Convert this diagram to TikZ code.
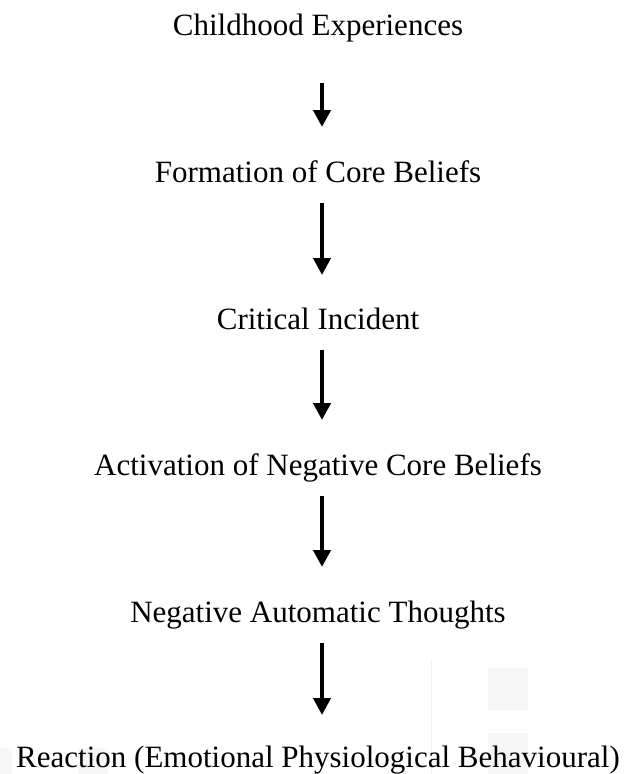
\documentclass[tikz,border=0pt]{standalone}
\usepackage{fontspec}
\setmainfont{Liberation Serif}
\usetikzlibrary{arrows.meta}

\tikzset{
  stage/.style={anchor=base,inner sep=0pt,font=\fontsize{31}{36}\selectfont},
  flow/.style={line width=4.5pt,-{Triangle[width=17pt,length=17pt]}},
  wmark/.style={fill=gray!6,draw=none}
}

\begin{document}
\begin{tikzpicture}[x=1pt,y=-1pt]
\path[use as bounding box] (0,0) rectangle (637,774);
% faint background marks
\fill[wmark] (488,668) rectangle (528,710);
\fill[wmark] (488,733) rectangle (528,774);
\fill[wmark] (577,774) arc[start angle=180,end angle=120,radius=110] -- (637,774) -- cycle;
\draw[gray!12,line width=1pt] (431,660) -- (431,774);
\fill[wmark] (0,748) rectangle (12,774);
\fill[wmark] (78,748) rectangle (108,774);
% stages
\node[stage] (child) at (318,35) {Childhood Experiences};
\node[stage] (core) at (318,182) {Formation of Core Beliefs};
\node[stage] (incident) at (318,329) {Critical Incident};
\node[stage] (activ) at (318,475) {Activation of Negative Core Beliefs};
\node[stage] (nat) at (318,622) {Negative Automatic Thoughts};
\node[stage] (react) at (318,767) {Reaction (Emotional Physiological Behavioural)};
% arrows
\draw[flow] ([xshift=4pt,yshift=-48pt]child.base) -- ([xshift=4pt,yshift=55pt]core.base);
\draw[flow] ([xshift=4pt,yshift=-21pt]core.base) -- ([xshift=4pt,yshift=54pt]incident.base);
\draw[flow] ([xshift=4pt,yshift=-21pt]incident.base) -- ([xshift=4pt,yshift=55pt]activ.base);
\draw[flow] ([xshift=4pt,yshift=-21pt]activ.base) -- ([xshift=4pt,yshift=55pt]nat.base);
\draw[flow] ([xshift=4pt,yshift=-21pt]nat.base) -- ([xshift=4pt,yshift=52pt]react.base);
\end{tikzpicture}
\end{document}
